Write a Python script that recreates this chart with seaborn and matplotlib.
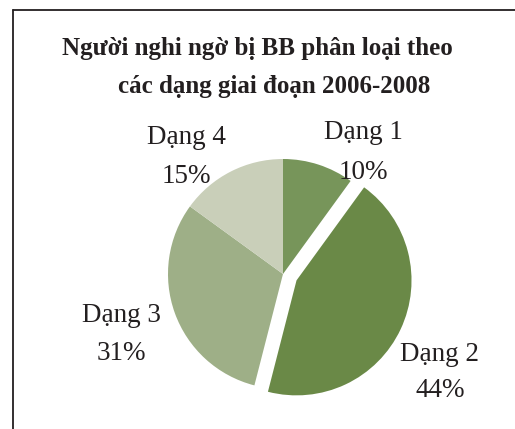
import matplotlib
matplotlib.use("Agg")
import matplotlib.pyplot as plt
from matplotlib.lines import Line2D
import seaborn as sns

# Data
categories = ["Dạng 1", "Dạng 2", "Dạng 3", "Dạng 4"]
shares = [10, 44, 31, 15]
title_lines = ["Người nghi ngờ bị BB phân loại theo", "các dạng giai đoạn 2006-2008"]

sns.set_theme(style="white")
plt.rcParams["font.family"] = ["Liberation Serif", "DejaVu Serif"]

colors = ["#77955a", "#6a8947", "#9eaf87", "#c9cfb9"]
text_color = "#231f20"

W, H = 515, 429
R = 115
explode = [0, 0.13 * R, 0, 0]  # pie offsets are in data units

fig = plt.figure(figsize=(W / 100, H / 100), dpi=100)
fig.patch.set_facecolor("white")
ax = fig.add_axes([0, 0, 1, 1])

ax.pie(shares, colors=colors, explode=explode, startangle=90,
       counterclock=False, center=(283, H - 274), radius=R,
       wedgeprops=dict(linewidth=0), frame=True)
ax.set_xlim(0, W)
ax.set_ylim(0, H)
ax.set_aspect("equal")
ax.axis("off")

# Category labels: name on one baseline, percentage on the next
label_pos = {"Dạng 1": (363, 139, 179), "Dạng 2": (440, 361, 397),
             "Dạng 3": (121, 322, 360), "Dạng 4": (186, 144, 183)}
for cat, val in zip(categories, shares):
    x, y1, y2 = label_pos[cat]
    ax.text(x, H - y1, cat, ha="center", va="baseline",
            fontsize=19.5, color=text_color)
    ax.text(x, H - y2, f"{val}%", ha="center", va="baseline",
            fontsize=19.5, color=text_color)

# Title, two lines
title_pos = [(257, 55), (274, 93)]
for line, (x, y) in zip(title_lines, title_pos):
    ax.text(x, H - y, line, ha="center", va="baseline",
            fontsize=18, fontweight="bold", color=text_color)

# Frame lines (top and left)
fig.add_artist(Line2D([13 / W, 1], [1 - 10 / H, 1 - 10 / H], color=text_color, lw=1.3))
fig.add_artist(Line2D([13 / W, 13 / W], [0, 1 - 10 / H], color=text_color, lw=1.3))

fig.savefig("out.png", dpi=100)
